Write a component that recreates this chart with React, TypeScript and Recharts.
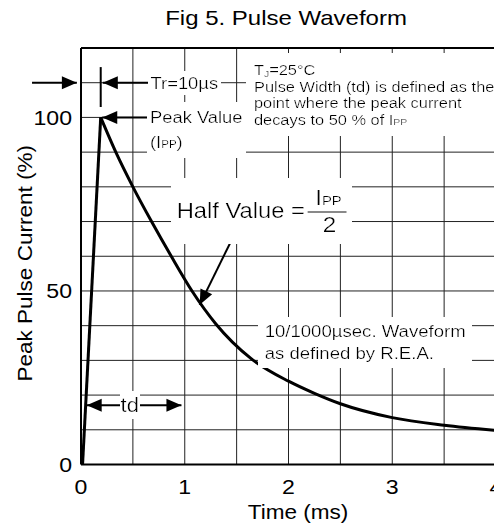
import React from 'react';
import { ComposedChart, Line, XAxis, YAxis, ReferenceLine, ReferenceDot } from 'recharts';

// ---- data ----
const riseTime = [0.015, 0.19];
const riseCurrent = [0, 100];
const decayTime = [0.19, 0.34, 0.5, 0.68, 0.87, 1.07, 1.3, 1.64, 2.0, 2.25, 2.5, 3.0, 3.5, 4.0];
const decayCurrent = [100, 89.7, 80, 70, 60, 50, 40.5, 30.5, 24, 20.5, 17.5, 13.5, 11.3, 9.8];
const xTicks = [0, 1, 2, 3, 4];
const yTicks = [0, 50, 100];
const xGrid = [0.5, 1, 1.5, 2, 2.5, 3, 3.5];
const yGrid = [10, 20, 30, 40, 50, 60, 70, 80, 90, 100, 110];
const titleText = 'Fig 5. Pulse Waveform';
const xLabelText = 'Time (ms)';
const yLabelText = 'Peak Pulse Current (%)';
const noteLines = ['Pulse Width (td) is defined as the', 'point where the peak current'];
const waveLines = ['10/1000\u00B5sec. Waveform', 'as defined by R.E.A.'];

const FONT = '"Liberation Sans", Arial, Helvetica, sans-serif';
const SX = 1.1;

type STextProps = {
  x: number;
  y: number;
  size: number;
  anchor?: 'start' | 'middle' | 'end';
  rotate?: number;
  sx?: number;
  children: React.ReactNode;
};

function SText({ x, y, size, anchor = 'start', rotate, sx = SX, children }: STextProps) {
  const tf = `translate(${x},${y})` + (rotate ? ` rotate(${rotate})` : '') + ` scale(${sx},1)`;
  return (
    <g transform={tf}>
      <text x={0} y={0} dy="0.35em" fontSize={size} fontFamily={FONT} fontWeight="normal" textAnchor={anchor} fill="#000">
        {children}
      </text>
    </g>
  );
}

const XTick = (p: any) => (
  <SText x={p.x} y={p.y + 22.5} size={21} anchor="middle">{p.payload.value}</SText>
);
const YTick = (p: any) => (
  <SText x={p.x - 9} y={p.y} size={21} anchor="end">{p.payload.value}</SText>
);

const XLabel = (p: any) => {
  const vb = p.viewBox;
  return <SText x={vb.x + vb.width / 2 + 9.5} y={vb.y + 47.5} size={20.5} anchor="middle">{xLabelText}</SText>;
};
const YLabel = (p: any) => {
  const vb = p.viewBox;
  return <SText x={vb.x + 17} y={vb.y + vb.height / 2 + 7} size={20.5} anchor="middle" rotate={-90}>{yLabelText}</SText>;
};

const head = (tx: number, ty: number, fx: number, fy: number) => {
  const a = Math.atan2(ty - fy, tx - fx);
  const L = 15;
  const W = 6.5;
  const bx = tx - L * Math.cos(a);
  const by = ty - L * Math.sin(a);
  const nx = -Math.sin(a) * W;
  const ny = Math.cos(a) * W;
  return `${tx},${ty} ${bx + nx},${by + ny} ${bx - nx},${by - ny}`;
};

const makeArrow = (double: boolean) => (p: any) => {
  const { x1, y1, x2, y2 } = p;
  if ([x1, y1, x2, y2].some((v) => typeof v !== 'number' || isNaN(v))) return <g />;
  return (
    <g>
      <line x1={x1} y1={y1} x2={x2} y2={y2} stroke="#000" strokeWidth={2} />
      <polygon points={head(x2, y2, x1, y1)} fill="#000" />
      {double && <polygon points={head(x1, y1, x2, y2)} fill="#000" />}
    </g>
  );
};
const Arrow = makeArrow(false);
const DoubleArrow = makeArrow(true);

const Sub = ({ children, size }: { children: React.ReactNode; size: number }) => (
  <tspan fontSize={size}>{children}</tspan>
);

const TitleContent = (p: any) => {
  const vb = p.viewBox;
  return (
    <g>
      <defs>
        <filter id="wbg" x="-0.03" y="-0.12" width="1.06" height="1.24">
          <feFlood floodColor="#ffffff" result="f" />
          <feMerge>
            <feMergeNode in="f" />
            <feMergeNode in="SourceGraphic" />
          </feMerge>
        </filter>
      </defs>
      <SText x={vb.x - 2.5} y={vb.y - 30} size={20} sx={1.2} anchor="middle">{titleText}</SText>
    </g>
  );
};

const txt = (size: number, y: number, children: React.ReactNode, x = 0, anchor = 'start') => (
  <text x={x} y={y} dy="0.35em" fontSize={size} fontFamily={FONT} fill="#000" textAnchor={anchor as any}>{children}</text>
);

const TrContent = (p: any) => {
  const vb = p.viewBox;
  return (
    <g transform={`translate(${vb.x},${vb.y}) scale(${SX},1)`} filter="url(#wbg)">
      {txt(16.7, 0, 'Tr=10\u00B5s')}
    </g>
  );
};

const PeakContent = (p: any) => {
  const vb = p.viewBox;
  return (
    <g transform={`translate(${vb.x},${vb.y}) scale(${SX},1)`} filter="url(#wbg)">
      {txt(16.7, 0, 'Peak Value')}
      {txt(16.7, 25, <>(I<Sub size={10.5}>PP</Sub>)</>)}
    </g>
  );
};

const NoteContent = (p: any) => {
  const vb = p.viewBox;
  return (
    <g transform={`translate(${vb.x},${vb.y}) scale(${SX},1)`} filter="url(#wbg)">
      {txt(14.9, 0, <>T<tspan fontSize={9.5} dy={2}>J</tspan><tspan dy={-2}>=25°C</tspan></>)}
      {txt(14.9, 16.5, noteLines[0])}
      {txt(14.9, 33, noteLines[1])}
      {txt(14.9, 49.5, <>decays to 50 % of I<Sub size={9.5}>PP</Sub></>)}
    </g>
  );
};

const HalfContent = (p: any) => {
  const vb = p.viewBox;
  return (
    <g transform={`translate(${vb.x},${vb.y}) scale(${SX},1)`} filter="url(#wbg)">
      {txt(21.6, 0, 'Half Value =')}
      <text x={126} y={-5} fontSize={22} fontFamily={FONT} fill="#000">I<tspan fontSize={13.5}>PP</tspan></text>
      <line x1={119} y1={2} x2={154.5} y2={2} stroke="#000" strokeWidth={1.5} />
      <text x={139} y={22} fontSize={22} fontFamily={FONT} fill="#000" textAnchor="middle">2</text>
    </g>
  );
};

const WaveContent = (p: any) => {
  const vb = p.viewBox;
  return (
    <g transform={`translate(${vb.x},${vb.y}) scale(${SX},1)`} filter="url(#wbg)">
      {txt(16.9, 0, waveLines[0])}
      {txt(16.9, 21.3, waveLines[1])}
    </g>
  );
};

const TdContent = (p: any) => {
  const vb = p.viewBox;
  return (
    <g transform={`translate(${vb.x},${vb.y}) scale(${SX},1)`} filter="url(#wbg)">
      {txt(20, 0, 'td', 0, 'middle')}
    </g>
  );
};

export default function App() {
  const rise = riseTime.map((t, i) => ({ t, v: riseCurrent[i] }));
  const decay = decayTime.map((t, i) => ({ t, v: decayCurrent[i] }));
  return (
    <ComposedChart width={494} height={520} margin={{ top: 40, right: 6, bottom: 0, left: 0 }} style={{ overflow: 'visible' }}>
      <XAxis
        type="number"
        dataKey="t"
        domain={[0, 4]}
        ticks={xTicks}
        interval={0}
        allowDataOverflow
        axisLine={false}
        tickLine={false}
        tickSize={0}
        tickMargin={0}
        height={63.5}
        tick={XTick}
        label={{ content: XLabel }}
      />
      <YAxis
        type="number"
        domain={[0, 120]}
        ticks={yTicks}
        interval={0}
        allowDataOverflow
        axisLine={false}
        tickLine={false}
        tickSize={0}
        tickMargin={0}
        width={73}
        tick={YTick}
        label={{ content: YLabel }}
      />
      {xGrid.map((x) => (
        <ReferenceLine key={'gx' + x} x={x} stroke="#222" strokeWidth={1} />
      ))}
      {yGrid.map((y) => (
        <ReferenceLine key={'gy' + y} y={y} stroke="#222" strokeWidth={1} />
      ))}
      <ReferenceLine x={0} stroke="#000" strokeWidth={2} ifOverflow="visible" />
      <ReferenceLine x={4} stroke="#000" strokeWidth={2} ifOverflow="visible" />
      <ReferenceLine y={0} stroke="#000" strokeWidth={2} ifOverflow="visible" />
      <ReferenceLine y={120} stroke="#000" strokeWidth={2} ifOverflow="visible" />
      <Line data={rise} dataKey="v" type="linear" stroke="#000" strokeWidth={3} dot={false} isAnimationActive={false} />
      <Line data={decay} dataKey="v" type="monotone" stroke="#000" strokeWidth={3} dot={false} isAnimationActive={false} />

      {/* annotations */}
      <ReferenceDot x={2} y={120} r={0} fill="none" stroke="none" ifOverflow="visible" label={{ content: TitleContent }} />
      <ReferenceLine segment={[{ x: -0.472, y: 110 }, { x: -0.04, y: 110 }]} ifOverflow="visible" shape={Arrow} />
      <ReferenceLine segment={[{ x: 0.19, y: 103 }, { x: 0.19, y: 114.5 }]} ifOverflow="visible" stroke="#000" strokeWidth={2} />
      <ReferenceLine segment={[{ x: 0.67, y: 110 }, { x: 0.21, y: 110 }]} ifOverflow="visible" shape={Arrow} />
      <ReferenceLine segment={[{ x: 0.665, y: 100 }, { x: 0.205, y: 100 }]} ifOverflow="visible" shape={Arrow} />
      <ReferenceLine segment={[{ x: 1.452, y: 64.7 }, { x: 1.144, y: 46 }]} ifOverflow="visible" shape={Arrow} />
      <ReferenceLine segment={[{ x: 0.055, y: 17.1 }, { x: 0.968, y: 17.1 }]} ifOverflow="visible" shape={DoubleArrow} />
      <ReferenceDot x={0.67} y={110} r={0} fill="none" stroke="none" ifOverflow="visible" label={{ content: TrContent }} />
      <ReferenceDot x={0.665} y={100} r={0} fill="none" stroke="none" ifOverflow="visible" label={{ content: PeakContent }} />
      <ReferenceDot x={1.667} y={113.7} r={0} fill="none" stroke="none" ifOverflow="visible" label={{ content: NoteContent }} />
      <ReferenceDot x={0.922} y={73.3} r={0} fill="none" stroke="none" ifOverflow="visible" label={{ content: HalfContent }} />
      <ReferenceDot x={1.77} y={38.3} r={0} fill="none" stroke="none" ifOverflow="visible" label={{ content: WaveContent }} />
      <ReferenceDot x={0.47} y={17.1} r={0} fill="none" stroke="none" ifOverflow="visible" label={{ content: TdContent }} />
    </ComposedChart>
  );
}
